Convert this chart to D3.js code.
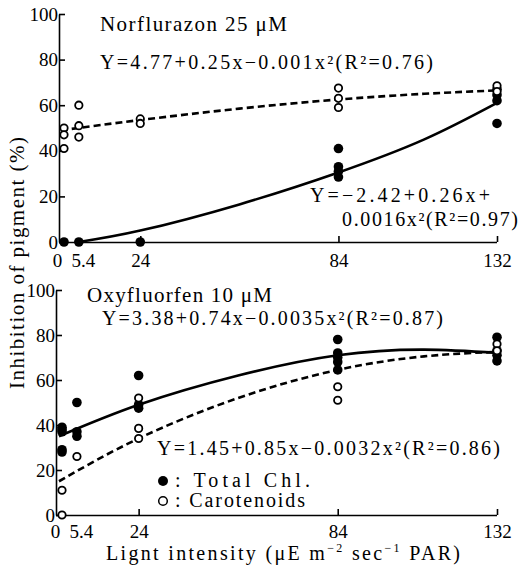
<!DOCTYPE html>
<html>
<head>
<meta charset="utf-8">
<script src="https://cdn.jsdelivr.net/npm/d3@7"></script>
<style>
  body { margin: 0; background: #fff; }
  svg { font-family: "Liberation Serif", "Times New Roman", "DejaVu Serif", serif; }
  svg text { font-family: "Liberation Serif", "Times New Roman", "DejaVu Serif", serif; fill: #000; }
  .axis path, .axis line { stroke: #000; stroke-width: 1.6; }
  .axis text { font-size: 19px; }
</style>
</head>
<body>
<div id="chart"></div>
<script>
// ###
// DATA
// ###
const xTicks = [0, 5.4, 24, 84, 132];
const yTicks = [0, 20, 40, 60, 80, 100];

// Norflurazon 25 uM
const norChl = [[0,0],[5.4,0],[24,0],[84,41],[84,33],[84,31],[84,28.5],[132,67],[132,64.5],[132,62],[132,52]];
const norCar = [[0,50],[0,47],[0,41],[5.4,60],[5.4,51],[5.4,46],[24,54],[24,52],[84,67.5],[84,63],[84,59],[132,68.5],[132,66]];
const norChlFitX = [5.4, 24, 54, 84, 110, 132];
const norChlFitY = [0, 5, 16.5, 30.5, 45, 61];
const norCarFitX = [0, 24, 54, 84, 110, 132];
const norCarFitY = [49, 53.5, 58.5, 62.5, 65, 66.5];

// Oxyfluorfen 10 uM
const oxyChl = [[0,39],[0,38],[0,37],[0,29],[0,28],[5.4,50],[5.4,37],[5.4,35],[24,62],[24,49],[24,47.5],[84,78],[84,72],[84,70],[84,68],[84,64.5],[132,79],[132,73],[132,71],[132,68.5]];
const oxyCar = [[0,11],[0,0],[5.4,26],[24,52],[24,38.5],[24,34],[84,57],[84,51],[132,76],[132,73]];
const oxyChlFitX = [0, 24, 54, 84, 110, 132];
const oxyChlFitY = [35, 49, 62, 71, 73.5, 72];
const oxyCarFitX = [0, 24, 54, 84, 110, 132];
const oxyCarFitY = [15, 34, 52, 64.5, 70.5, 72.5];

// label nudges so "0" and "5.4" do not collide
const xLabelShift = {0: -4, 5.4: 4};

const FONT = '"Liberation Serif", "Times New Roman", "DejaVu Serif", serif';
const width = 523, height = 568;

const svg = d3.select('#chart').append('svg')
	.attr('width', width)
	.attr('height', height)
	.attr('font-family', FONT);

function panel(opts){
	const x = d3.scaleLinear().domain([0, 132]).range(opts.xRange);
	const y = d3.scaleLinear().domain([0, 100]).range(opts.yRange);

	const g = svg.append('g');

	// axes
	g.append('g')
		.attr('class', 'x axis')
		.attr('transform', `translate(0, ${opts.yRange[0]})`)
		.call(d3.axisBottom(x)
			.tickValues(xTicks)
			.tickSizeInner(-6)
			.tickSizeOuter(0)
			.tickPadding(opts.xPad)
			.tickFormat(d => d))
		.attr('font-family', FONT)
		.attr('font-size', 19)
		.call(a => a.selectAll('.tick').filter(d => d === 0 || d === 5.4).select('line').remove())
		.call(a => a.selectAll('.tick text').attr('x', d => xLabelShift[d] || 0))
		.call(a => a.select('.domain').attr('d', `M${opts.axisX},0.5H${opts.xRange[1]}`));

	g.append('g')
		.attr('class', 'y axis')
		.attr('transform', `translate(${opts.axisX}, 0)`)
		.call(d3.axisLeft(y)
			.tickValues(yTicks)
			.tickSizeInner(-6)
			.tickSizeOuter(0)
			.tickPadding(1))
		.attr('font-family', FONT)
		.attr('font-size', 19);

	// fitted curves
	const line = d3.line()
		.curve(d3.curveNatural)
		.x(d => x(d[0]))
		.y(d => y(d[1]));

	g.append('path')
		.datum(d3.zip(opts.chlFitX, opts.chlFitY))
		.attr('d', line)
		.attr('fill', 'none')
		.attr('stroke', '#000')
		.attr('stroke-width', 2.6);

	g.append('path')
		.datum(d3.zip(opts.carFitX, opts.carFitY))
		.attr('d', line)
		.attr('fill', 'none')
		.attr('stroke', '#000')
		.attr('stroke-width', 2.6)
		.attr('stroke-dasharray', '7,4');

	// points
	g.selectAll('.chl')
		.data(opts.chl)
		.join('circle')
		.attr('cx', d => x(d[0]) + (d[0] === 0 ? 3 : 0))
		.attr('cy', d => y(d[1]))
		.attr('r', 4.8)
		.attr('fill', '#000');

	g.selectAll('.car')
		.data(opts.car)
		.join('circle')
		.attr('cx', d => x(d[0]) + (d[0] === 0 ? 3 : 0))
		.attr('cy', d => y(d[1]))
		.attr('r', 3.7)
		.attr('fill', '#fff')
		.attr('stroke', '#000')
		.attr('stroke-width', 1.8);

	return {x, y};
}

panel({
	xRange: [61, 497], yRange: [242, 14], axisX: 59, xPad: 12,
	chl: norChl, car: norCar,
	chlFitX: norChlFitX, chlFitY: norChlFitY,
	carFitX: norCarFitX, carFitY: norCarFitY
});

panel({
	xRange: [59, 497], yRange: [515, 290], axisX: 56, xPad: 10,
	chl: oxyChl, car: oxyCar,
	chlFitX: oxyChlFitX, chlFitY: oxyChlFitY,
	carFitX: oxyCarFitX, carFitY: oxyCarFitY
});

// ###
// TEXT
// ###
function label(txt, x0, y0, x1, size){
	svg.append('text')
		.attr('x', x0)
		.attr('y', y0)
		.attr('font-family', FONT)
		.attr('font-size', size || 19)
		.attr('textLength', x1 - x0)
		.attr('lengthAdjust', 'spacing')
		.text(txt);
}

label('Norflurazon 25 μM', 100, 31, 287, 21);
label('Y=4.77+0.25x−0.001x²(R²=0.76)', 100, 69, 433, 20);
label('Y=−2.42+0.26x+', 310, 202, 490, 20);
label('0.0016x²(R²=0.97)', 342, 226, 518, 20);

label('Oxyfluorfen 10 μM', 87, 302, 272, 21);
label('Y=3.38+0.74x−0.0035x²(R²=0.87)', 102, 325, 443, 20);
label('Y=1.45+0.85x−0.0032x²(R²=0.86)', 157, 455, 500, 20);

// legend
svg.append('circle').attr('cx', 163).attr('cy', 481).attr('r', 5).attr('fill', '#000');
svg.append('circle').attr('cx', 163).attr('cy', 501).attr('r', 4.3)
	.attr('fill', '#fff').attr('stroke', '#000').attr('stroke-width', 1.5);
label(': Total Chl.', 175, 487, 310, 20);
label(': Carotenoids', 175, 507, 305, 20);

// axis titles
svg.append('text')
	.attr('transform', 'translate(24, 263) rotate(-90)')
	.attr('text-anchor', 'middle')
	.attr('font-family', FONT)
	.attr('font-size', 21)
	.attr('textLength', 252)
	.attr('lengthAdjust', 'spacing')
	.text('Inhibition of pigment (%)');

const xt = svg.append('text')
	.attr('x', 106)
	.attr('y', 560)
	.attr('font-family', FONT)
	.attr('font-size', 20)
	.attr('textLength', 354)
	.attr('lengthAdjust', 'spacing');
xt.append('tspan').text('Lignt  intensity  (μE  m');
xt.append('tspan').attr('dy', -8).attr('font-size', 12).text('−2');
xt.append('tspan').attr('dy', 8).text(' sec');
xt.append('tspan').attr('dy', -8).attr('font-size', 12).text('−1');
xt.append('tspan').attr('dy', 8).text('  PAR)');
</script>
</body>
</html>
